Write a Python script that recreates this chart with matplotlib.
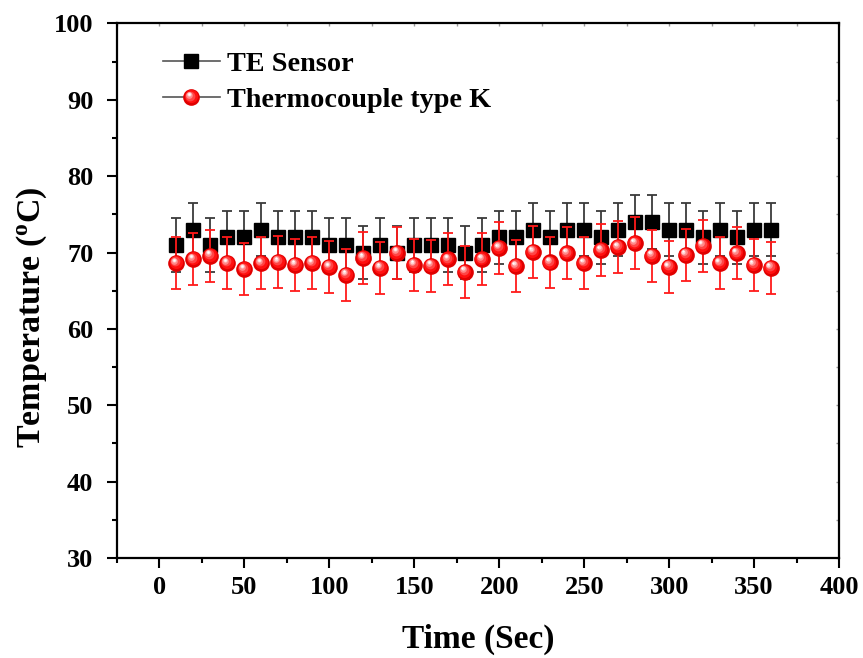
import matplotlib
matplotlib.use("Agg")
import matplotlib.pyplot as plt
import numpy as np
from matplotlib.lines import Line2D
from matplotlib.legend_handler import HandlerBase
from matplotlib.transforms import offset_copy
from matplotlib.ticker import MultipleLocator

plt.rcParams['font.family'] = ['Liberation Serif', 'DejaVu Serif']
plt.rcParams['font.weight'] = 'bold'
plt.rcParams['mathtext.fontset'] = 'custom'
plt.rcParams['mathtext.rm'] = 'Liberation Serif:bold'
plt.rcParams['mathtext.bf'] = 'Liberation Serif:bold'
plt.rcParams['mathtext.it'] = 'Liberation Serif:bold:italic'

# data
time_s = [10, 20, 30, 40, 50, 60, 70, 80, 90, 100, 110, 120, 130, 140, 150, 160, 170, 180,
          190, 200, 210, 220, 230, 240, 250, 260, 270, 280, 290, 300, 310, 320, 330, 340, 350, 360]
te_sensor = [71, 73, 71, 72, 72, 73, 72, 72, 72, 71, 71, 70, 71, 70, 71, 71, 71, 70,
             71, 72, 72, 73, 72, 73, 73, 72, 73, 74, 74, 73, 73, 72, 73, 72, 73, 73]
te_err = [3.5] * len(time_s)
thermo_k = [68.6, 69.1, 69.6, 68.6, 67.8, 68.6, 68.8, 68.4, 68.6, 68.1, 67.1, 69.3, 68.0, 70.0,
            68.4, 68.3, 69.1, 67.5, 69.1, 70.6, 68.2, 70.1, 68.7, 69.9, 68.6, 70.3, 70.7, 71.2,
            69.6, 68.1, 69.7, 70.9, 68.6, 69.9, 68.4, 68.0]
thermo_err = [3.4] * len(time_s)

x_ticks = [0, 50, 100, 150, 200, 250, 300, 350, 400]
y_ticks = [30, 40, 50, 60, 70, 80, 90, 100]

# sphere shading layers: (size, colour, dx, dy) in points
sphere_layers = [(12, '#e00000', 0, 0), (9.5, '#ff1010', -0.6, 0.7), (7, '#ff4545', -1.1, 1.3),
                 (4.8, '#ff8a8a', -1.6, 1.9), (3.0, '#ffd0d0', -1.9, 2.3), (1.6, 'white', -2.0, 2.5)]


def draw_spheres(ax, fig, x, y):
    for ms, col, dx, dy in sphere_layers:
        tr = offset_copy(ax.transData, fig=fig, x=dx, y=dy, units='points')
        ax.plot(x, y, ls='none', marker='o', ms=ms, mfc=col, mec='none', transform=tr, zorder=5)


class SphereHandler(HandlerBase):
    def create_artists(self, legend, orig_handle, xdescent, ydescent, width, height, fontsize, trans):
        cx = width / 2 - xdescent
        cy = height / 2 - ydescent
        arts = [Line2D([-xdescent, width - xdescent], [cy, cy], color='#555555', lw=1.2, transform=trans)]
        for ms, col, dx, dy in sphere_layers:
            arts.append(Line2D([cx + dx], [cy + dy], ls='none', marker='o', ms=ms, mfc=col,
                               mec='none', transform=trans))
        return arts


fig = plt.figure(figsize=(8.63, 6.58), dpi=100)
ax = fig.add_axes([0.1356, 0.152, 0.8366, 0.8123])

ax.errorbar(time_s, te_sensor, yerr=te_err, fmt='none', ecolor='#3a3a3a', elinewidth=1.3,
            capsize=3.4, capthick=1.3, zorder=2)
ax.plot(time_s, te_sensor, ls='none', marker='s', ms=10, mfc='black', mec='black', zorder=3)
ax.errorbar(time_s, thermo_k, yerr=thermo_err, fmt='none', ecolor='#ff1a1a', elinewidth=1.3,
            capsize=3.4, capthick=1.3, zorder=4)
draw_spheres(ax, fig, time_s, thermo_k)

ax.set_xlim(-25, 400)
ax.set_ylim(30, 100)
ax.set_xticks(x_ticks)
ax.set_yticks(y_ticks)
ax.xaxis.set_minor_locator(MultipleLocator(25))
ax.yaxis.set_minor_locator(MultipleLocator(5))
ax.tick_params(axis='both', which='major', direction='out', length=7, width=1.5, labelsize=19)
ax.tick_params(axis='both', which='minor', direction='out', length=3.6, width=1.5)
ax.tick_params(axis='x', which='major', pad=6)
ax.tick_params(axis='y', which='major', pad=10)
for s in ax.spines.values():
    s.set_linewidth(1.6)

# faint inward ticks on the top and right frame
sec_x = ax.secondary_xaxis('top')
sec_x.set_xticks(x_ticks)
sec_x.xaxis.set_minor_locator(MultipleLocator(25))
sec_x.tick_params(which='both', direction='in', length=2.5, width=1, colors='#999999', labeltop=False)
sec_x.spines['top'].set_visible(False)
sec_y = ax.secondary_yaxis('right')
sec_y.set_yticks(y_ticks)
sec_y.yaxis.set_minor_locator(MultipleLocator(5))
sec_y.tick_params(which='both', direction='in', length=2.5, width=1, colors='#999999', labelright=False)
sec_y.spines['right'].set_visible(False)

ax.set_xlabel('Time (Sec)', fontsize=24, fontweight='bold', labelpad=18)
ax.set_ylabel(r'Temperature ($\mathrm{^{o}}$C)', fontsize=24.5, fontweight='bold')
ax.yaxis.set_label_coords(-0.094, 0.451)

te_handle = Line2D([], [], color='#555555', lw=1.2, marker='s', ms=10, mfc='black', mec='black')
tk_handle = Line2D([], [])
ax.legend([te_handle, tk_handle], ['TE Sensor', 'Thermocouple type K'],
          handler_map={tk_handle: SphereHandler()}, loc='upper left',
          bbox_to_anchor=(0.063, 0.948), frameon=False, fontsize=20.3, handlelength=2.05,
          handletextpad=0.23, labelspacing=0.37, borderpad=0, borderaxespad=0, numpoints=1)

fig.savefig('out.png', dpi=100)
